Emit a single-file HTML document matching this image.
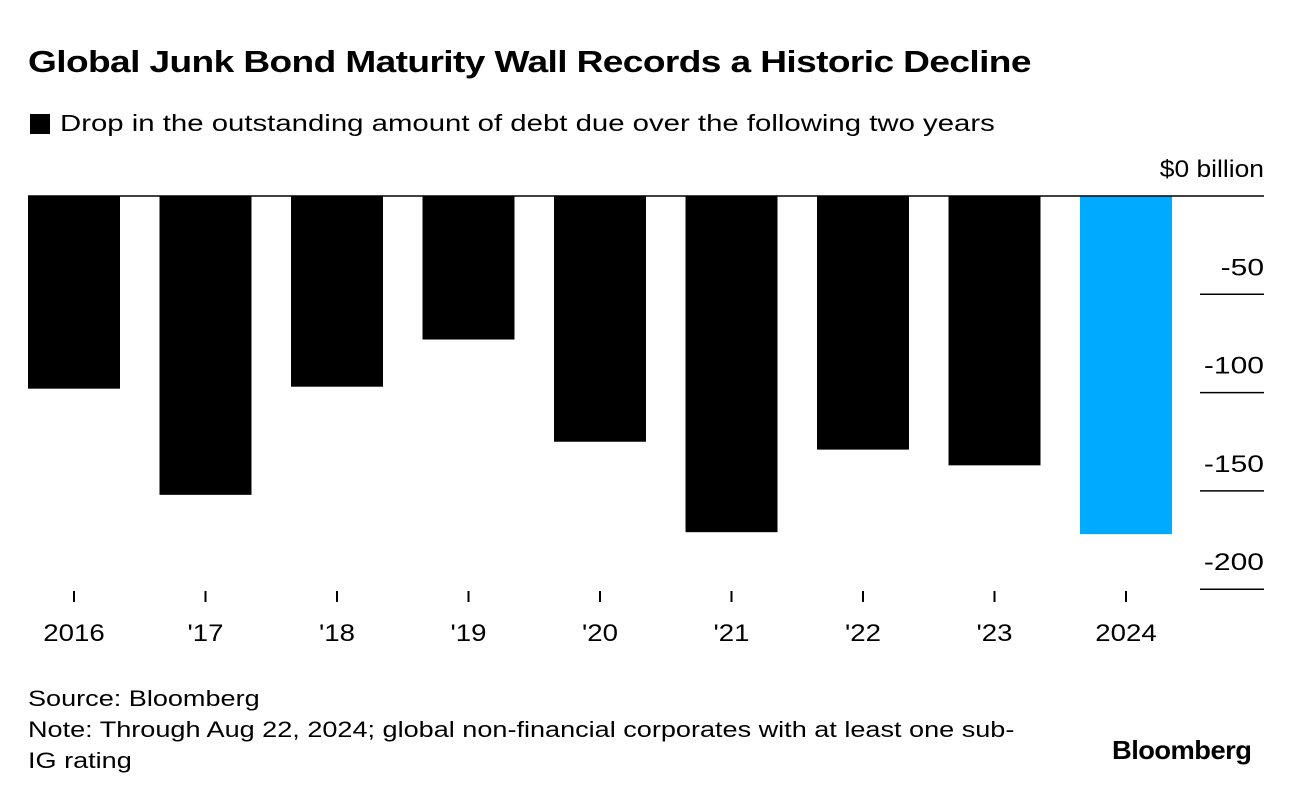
<!DOCTYPE html>
<html><head><meta charset="utf-8"><style>
body{margin:0;background:#fff;font-family:"Liberation Sans",sans-serif;}
#wrap{position:relative;width:1292px;height:796px;overflow:hidden;}
.t{position:absolute;white-space:nowrap;color:#000;transform-origin:0 0;}
</style></head><body>
<div id="wrap">
<div class="t" style="left:28px;top:44px;font-size:31px;font-weight:bold;letter-spacing:-0.5px;transform:scaleX(1.196);">Global Junk Bond Maturity Wall Records a Historic Decline</div>
<div class="t" style="left:30px;top:110px;font-size:23px;"><span style="display:inline-block;width:20px;height:20px;background:#000;vertical-align:-3px;margin-right:10px;"></span><span style="display:inline-block;transform:scaleX(1.276);transform-origin:0 0;">Drop in the outstanding amount of debt due over the following two years</span></div>
<svg id="svg" width="1292" height="796" style="position:absolute;left:0;top:0"></svg>
<div class="t" style="left:28px;top:683px;font-size:22px;line-height:31px;transform:scaleX(1.23);">Source: Bloomberg<br>Note: Through Aug 22, 2024; global non-financial corporates with at least one sub-<br>IG rating</div>
<div class="t" style="left:1112px;top:735px;font-size:26px;font-weight:bold;letter-spacing:-0.5px;transform:scaleX(1.05);">Bloomberg</div>
</div>
<script>
const categories=["2016","'17","'18","'19","'20","'21","'22","'23","2024"];
const values=[-98,-152,-97,-73,-125,-171,-129,-137,-172];
const yTicks=[0,-50,-100,-150,-200];
const yTickLabels=["$0 billion","-50","-100","-150","-200"];
const NS="http://www.w3.org/2000/svg";
const svg=document.getElementById('svg');
const y0=196,pxPerUnit=1.966;
function yScale(v){return y0-v*pxPerUnit;}
function xCenter(i){return 74+i*131.5;}
const bw=92;
function mk(tag,attrs){const e=document.createElementNS(NS,tag);for(const k in attrs)e.setAttribute(k,attrs[k]);svg.appendChild(e);return e;}
function stretch(el,f){const w=el.getComputedTextLength();el.setAttribute('textLength',w*f);el.setAttribute('lengthAdjust','spacingAndGlyphs');}
values.forEach((v,i)=>{
  const r=mk('rect',{x:xCenter(i)-bw/2,y:yScale(0),width:bw,height:yScale(v)-yScale(0),fill:i===values.length-1?'#00aaff':'#000'});
  
  
  const tk=mk('line',{x1:xCenter(i),x2:xCenter(i),y1:591,y2:602,stroke:'#000','stroke-width':2});
  
  
  const tx=mk('text',{x:xCenter(i),y:641,'text-anchor':'middle','font-size':24,'font-family':'Liberation Sans'});
  tx.textContent=categories[i];
  
  
  stretch(tx,1.15);
});
yTicks.forEach((t,i)=>{
  const y=yScale(t);
  const ln=mk('line',{x1:i===0?28:1200,x2:1264,y1:y,y2:y,stroke:'#000','stroke-width':1.5});
  
  
  const tx=mk('text',{x:1264,y:y-19,'text-anchor':'end','font-size':24,'font-family':'Liberation Sans'});
  tx.textContent=yTickLabels[i];
  
  
  stretch(tx,i===0?1.1:1.25);
});
</script>
</body></html>
